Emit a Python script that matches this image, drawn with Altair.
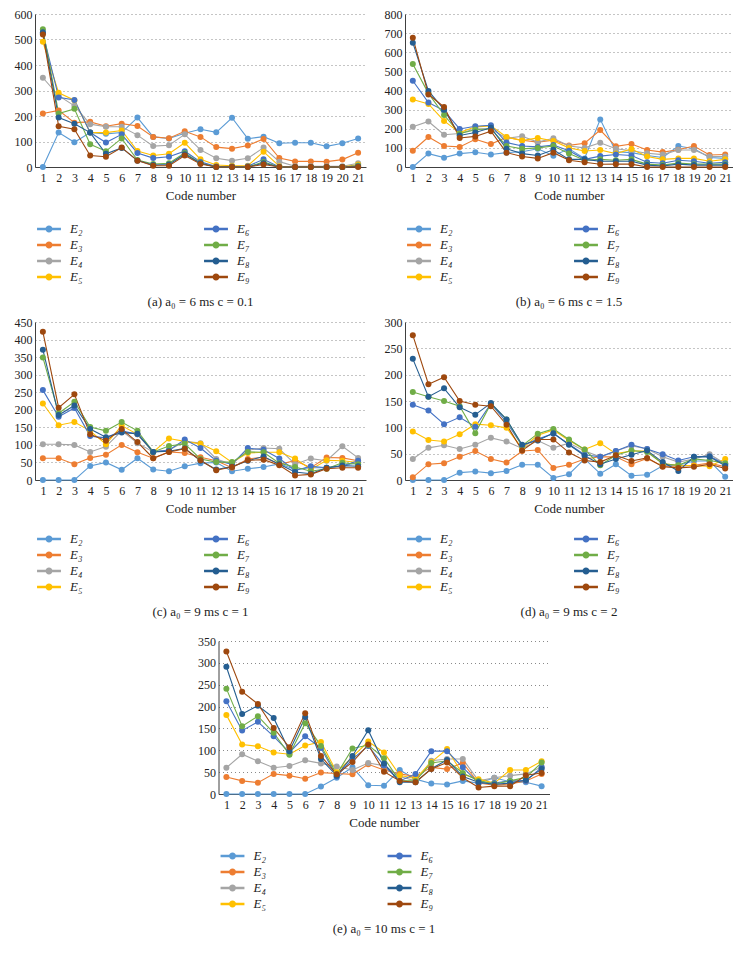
import altair as alt
import pandas as pd

codes = list(range(1, 22))
series = ["E₂", "E₃", "E₄", "E₅", "E₆", "E₇", "E₈", "E₉"]
colors = ["#5B9BD5", "#ED7D31", "#A5A5A5", "#FFC000", "#4472C4", "#70AD47", "#255E91", "#9E480E"]

# Panel (a): a0 = 6 ms, c = 0.1
a_E2 = [0,135,97,135,130,135,194,118,112,132,148,136,193,111,119,93,95,95,81,93,112]
a_E3 = [210,222,174,177,160,170,161,118,113,140,118,78,72,84,110,35,22,22,21,29,56]
a_E4 = [350,280,240,168,158,158,125,82,85,128,67,34,25,34,76,21,3,3,3,3,15]
a_E5 = [491,291,262,135,135,143,63,45,52,95,30,8,5,5,60,3,0,0,0,0,10]
a_E6 = [525,273,263,135,96,128,55,35,40,62,20,2,2,3,30,0,0,0,0,0,5]
a_E7 = [540,210,228,89,62,112,27,12,15,55,15,0,0,0,20,0,0,0,0,0,5]
a_E8 = [528,194,170,135,52,75,25,8,10,50,15,0,0,0,15,0,0,0,0,0,2]
a_E9 = [520,160,148,45,40,76,25,5,5,45,12,0,0,0,10,0,0,0,0,0,0]

# Panel (b): a0 = 6 ms, c = 1.5
b_E2 = [0,70,49,70,77,65,75,80,95,59,95,45,249,80,75,60,50,110,95,50,45]
b_E3 = [85,157,110,105,145,120,155,140,130,140,113,124,193,108,120,89,78,90,110,63,65]
b_E4 = [210,238,169,175,200,200,150,161,130,150,110,100,127,95,85,72,65,89,89,55,55]
b_E5 = [353,330,241,180,210,215,157,138,152,136,100,84,89,70,94,55,40,45,45,30,40]
b_E6 = [451,337,295,199,213,218,128,110,105,115,85,40,57,65,60,25,20,35,30,20,25]
b_E7 = [538,385,272,175,195,200,110,95,100,110,70,35,40,35,40,15,10,20,15,15,15]
b_E8 = [650,398,300,165,180,205,95,70,60,90,40,40,30,30,30,10,5,15,10,10,10]
b_E9 = [676,379,314,152,160,187,75,55,45,75,35,25,14,15,15,0,0,0,0,0,0]

# Panel (c): a0 = 9 ms, c = 1
c_E2 = [0,0,0,40,50,29,62,30,25,39,48,50,25,32,37,46,30,35,35,40,50]
c_E3 = [62,62,45,63,72,100,79,62,80,77,65,55,35,60,65,45,55,35,64,63,55]
c_E4 = [102,102,100,80,95,140,105,80,85,110,105,60,45,85,91,89,45,61,55,96,63]
c_E5 = [218,156,165,140,102,155,130,80,118,110,103,82,50,77,79,79,61,30,56,55,50]
c_E6 = [256,180,205,125,120,140,130,80,85,115,91,55,45,91,86,61,27,39,35,40,55]
c_E7 = [349,190,223,151,140,165,140,80,97,103,60,51,51,80,79,48,37,25,32,49,45]
c_E8 = [371,185,212,145,122,135,132,80,82,90,55,30,38,55,67,45,23,18,35,41,39]
c_E9 = [422,206,244,130,112,145,108,62,80,89,56,28,37,56,58,42,13,16,32,35,35]

# Panel (d): a0 = 9 ms, c = 2
d_E2 = [0,0,0,14,16,13,17,29,29,4,11,40,12,30,8,10,27,28,36,36,6]
d_E3 = [5,30,32,44,55,40,33,55,57,23,29,40,44,44,30,41,26,26,28,32,25]
d_E4 = [40,61,66,59,67,80,73,60,75,61,70,55,44,55,65,59,44,34,40,49,31]
d_E5 = [92,76,73,87,106,104,99,60,85,95,75,58,70,50,55,55,31,28,27,26,40]
d_E6 = [143,132,106,119,101,145,110,65,78,88,68,48,44,55,67,59,49,37,44,45,30]
d_E7 = [167,158,150,140,89,145,115,65,88,97,77,58,28,47,56,53,31,28,40,37,32]
d_E8 = [230,158,174,138,124,146,115,67,75,89,67,46,30,40,48,56,34,17,44,44,27]
d_E9 = [275,182,195,150,143,140,105,56,77,77,52,37,34,47,36,42,25,23,25,30,22]

# Panel (e): a0 = 10 ms, c = 1
e_E2 = [0,0,0,0,0,0,17,37,61,20,19,55,34,24,22,30,25,37,28,27,18]
e_E3 = [39,30,26,46,42,35,49,47,45,68,55,46,40,61,57,71,25,20,23,30,46]
e_E4 = [60,91,75,60,64,77,70,63,55,71,65,40,30,76,80,80,30,37,42,46,62]
e_E5 = [181,113,109,95,91,111,119,50,85,120,95,43,35,73,103,45,34,25,55,55,75]
e_E6 = [212,145,165,132,95,132,105,40,80,110,65,30,46,98,98,61,25,25,30,30,61]
e_E7 = [241,155,178,140,90,162,110,45,104,112,82,30,30,71,76,48,30,23,30,38,72]
e_E8 = [291,183,202,174,98,176,80,42,87,146,70,27,27,58,78,40,27,22,25,32,57]
e_E9 = [326,234,206,151,107,185,87,45,73,113,51,30,27,57,72,37,15,18,18,43,48]

captions = {
    "a": "(a)  a₀ = 6 ms  c = 0.1",
    "b": "(b)  a₀ = 6 ms  c = 1.5",
    "c": "(c)  a₀ = 9 ms  c = 1",
    "d": "(d)  a₀ = 9 ms  c = 2",
    "e": "(e)  a₀ = 10 ms  c = 1",
}

SERIF = "Liberation Serif, Times New Roman, DejaVu Serif, serif"
SYM = ("M-1.4,-0.07H-0.34V0.07H-1.4Z M0.34,-0.07H1.4V0.07H0.34Z "
       "M0.34,0A0.34,0.34,0,1,1,-0.34,0A0.34,0.34,0,1,1,0.34,0Z")


def panel(vals, ymax, step, h, cap, w=331, leg_off=53):
    rows = []
    for s, v in zip(series, vals):
        for c, y in zip(codes, v):
            rows.append({"code": c, "value": y, "series": s})
    df = pd.DataFrame(rows)
    x = alt.X("code:O", sort=codes,
              scale=alt.Scale(type="point", padding=0.5),
              axis=alt.Axis(title="Code number", labelAngle=0, ticks=False,
                            labelFont=SERIF, labelFontSize=12, labelColor="#222",
                            labelPadding=5, titleFont=SERIF, titleFontSize=13,
                            titleFontWeight="normal", titleColor="#222",
                            titlePadding=6, domainColor="#404040"))
    y = alt.Y("value:Q", scale=alt.Scale(domain=[0, ymax], nice=False),
              axis=alt.Axis(title=None, values=list(range(0, ymax + 1, step)),
                            ticks=False, grid=True, gridDash=[1, 3],
                            gridColor="#8a8a8a", labelFont=SERIF, labelFontSize=12,
                            labelColor="#222", labelPadding=3,
                            domainColor="#404040"))
    color_scale = alt.Scale(domain=series, range=colors)
    leg = alt.Legend(title=None, orient="none", legendX=5, legendY=h + leg_off,
                     columns=2, columnPadding=118, rowPadding=0,
                     symbolType=SYM, symbolSize=256, labelOffset=12,
                     labelFont=SERIF, labelFontStyle="italic",
                     labelFontSize=13, labelColor="#222")
    color = alt.Color("series:N", scale=color_scale, legend=leg)
    line = alt.Chart(df).mark_line(strokeWidth=1.1).encode(
        x=x, y=y, color=color)
    pts = alt.Chart(df).mark_point(filled=True, size=36, opacity=1).encode(
        x=x, y=y, color=color)
    return alt.layer(line, pts).properties(
        width=w, height=h,
        title=alt.TitleParams(cap, orient="bottom", font=SERIF, fontSize=13,
                              fontWeight="normal", color="#222", offset=12))


A = panel([a_E2, a_E3, a_E4, a_E5, a_E6, a_E7, a_E8, a_E9], 600, 100, 153, captions["a"])
B = panel([b_E2, b_E3, b_E4, b_E5, b_E6, b_E7, b_E8, b_E9], 800, 100, 153, captions["b"], w=328)
C = panel([c_E2, c_E3, c_E4, c_E5, c_E6, c_E7, c_E8, c_E9], 450, 50, 158, captions["c"], leg_off=50)
D = panel([d_E2, d_E3, d_E4, d_E5, d_E6, d_E7, d_E8, d_E9], 300, 50, 158, captions["d"], w=328, leg_off=50)
E = panel([e_E2, e_E3, e_E4, e_E5, e_E6, e_E7, e_E8, e_E9], 350, 50, 153, captions["e"])

row1 = alt.hconcat(A, B, spacing=18).resolve_scale(color="independent", y="independent").resolve_legend(color="independent")
row2 = alt.hconcat(C, D, spacing=18).resolve_scale(color="independent", y="independent").resolve_legend(color="independent")
top = alt.vconcat(row1, row2, spacing=7).resolve_scale(
    color="independent", y="independent").resolve_legend(color="independent")

chart = alt.vconcat(top, E, spacing=16, center=True).resolve_scale(
    color="independent", y="independent").resolve_legend(color="independent").properties(
    padding={"left": 6, "top": 0, "right": 0, "bottom": 5},
    background="white").configure_view(stroke=None)

chart.save("out.html", embed_options={"renderer": "svg", "actions": False})
